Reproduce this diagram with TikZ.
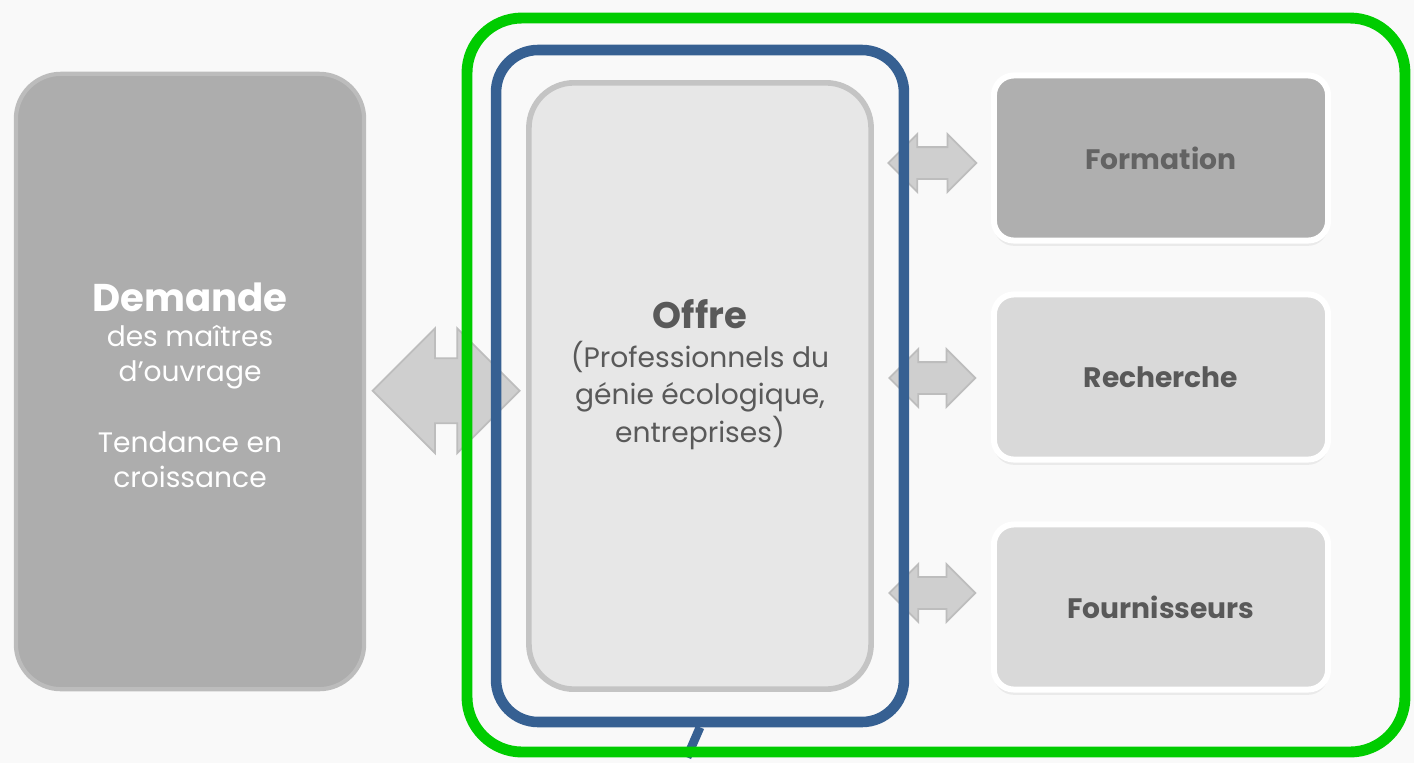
\documentclass[tikz,border=0pt]{standalone}
\usepackage{fontspec}
\setmainfont{Poppins}
\usetikzlibrary{positioning,shapes.arrows,shadows,fit,calc}

\definecolor{bgcol}{HTML}{F9F9F9}
\definecolor{demfill}{HTML}{ADADAD}
\definecolor{demline}{HTML}{BCBCBC}
\definecolor{offfill}{HTML}{E7E7E7}
\definecolor{offline}{HTML}{C4C4C4}
\definecolor{txtgray}{HTML}{595959}
\definecolor{formtxt}{HTML}{636363}
\definecolor{formfill}{HTML}{AFAFAF}
\definecolor{boxfill}{HTML}{D9D9D9}
\definecolor{arrfill}{HTML}{CFCFCF}
\definecolor{arrline}{HTML}{BDBDBD}
\definecolor{framegreen}{HTML}{00CC00}
\definecolor{frameblue}{HTML}{366092}

\tikzset{
  bigbox/.style={rounded corners=0.45cm, align=center, inner sep=0pt,
    font=\fontsize{8}{10}\selectfont},
  sidebox/.style={rounded corners=0.2cm, draw=white, line width=1.7pt,
    minimum width=3.34cm, minimum height=1.65cm, text=txtgray,
    font=\fontsize{8}{10}\selectfont\bfseries,
    drop shadow={opacity=0.12, shadow xshift=0pt, shadow yshift=-1.5pt}},
  twoway/.style={double arrow, draw=arrline, fill=arrfill, line width=0.5pt,
    double arrow tip angle=90, inner sep=0pt},
}

\begin{document}
\begin{tikzpicture}[x=0.01cm, y=-0.01cm]
 \fill[bgcol] (0,0) rectangle (1414,763);
 \useasboundingbox (0,0) rectangle (1414,763);

 % demand and offer
 \node[bigbox, fill=demfill, draw=demline, line width=1.2pt, minimum width=3.48cm,
   minimum height=6.15cm, text=white] (demande) at (190,381.5)
   {{\fontsize{11}{13}\selectfont\bfseries\rule{0pt}{10.2pt}Demande}\\ des maîtres\\ d'ouvrage\\[10pt]
    Tendance en\\ croissance};
 \node[bigbox, fill=offfill, draw=offline, line width=1.6pt, minimum width=3.42cm,
   minimum height=6.06cm, text=txtgray, font=\fontsize{8}{10.6}\selectfont] (offre) at (700,386)
   {{\fontsize{10.5}{12}\selectfont\bfseries Offre}\\[0.4pt] (Professionnels du\\
    génie écologique,\\ entreprises)\rule[-8.5pt]{0pt}{0pt}};

 % partners
 \node[sidebox, fill=formfill, text=formtxt] (formation) at (1161,158) {Formation};
 \node[sidebox, fill=boxfill] (recherche) at (1161,377) {Recherche};
 \node[sidebox, fill=boxfill] (fournisseurs) at (1161,607) {Fournisseurs};

 % arrows
 \node[twoway, minimum height=1.47cm, inner ysep=0.315cm, double arrow head extend=0.3cm,
   yshift=-0.07cm] (a1) at ($(demande.east)!.5!(offre.west)$) {};
 \node[twoway, minimum height=0.88cm, inner ysep=0.15cm, double arrow head extend=0.13cm,
   yshift=-0.05cm] (a2) at ($(offre.east |- formation.west)!.5!(formation.west)$) {};
 \node[twoway, minimum height=0.86cm, inner ysep=0.15cm, double arrow head extend=0.13cm,
   yshift=-0.01cm] (a3) at ($(offre.east |- recherche.west)!.5!(recherche.west)$) {};
 \node[twoway, minimum height=0.86cm, inner ysep=0.15cm, double arrow head extend=0.13cm,
   yshift=0.14cm] (a4) at ($(offre.east |- fournisseurs.west)!.5!(fournisseurs.west)$) {};

 % frames
 \node[draw=frameblue, line width=3pt, rounded corners=0.42cm, fit=(offre),
   inner sep=0.3cm] (offreframe) {};
 \draw[frameblue, line width=2.5pt] (offreframe.south) -- ++(-13,30);
 \draw[framegreen, line width=3.1pt, rounded corners=0.55cm] (467,18) rectangle (1405,752);
\end{tikzpicture}
\end{document}
